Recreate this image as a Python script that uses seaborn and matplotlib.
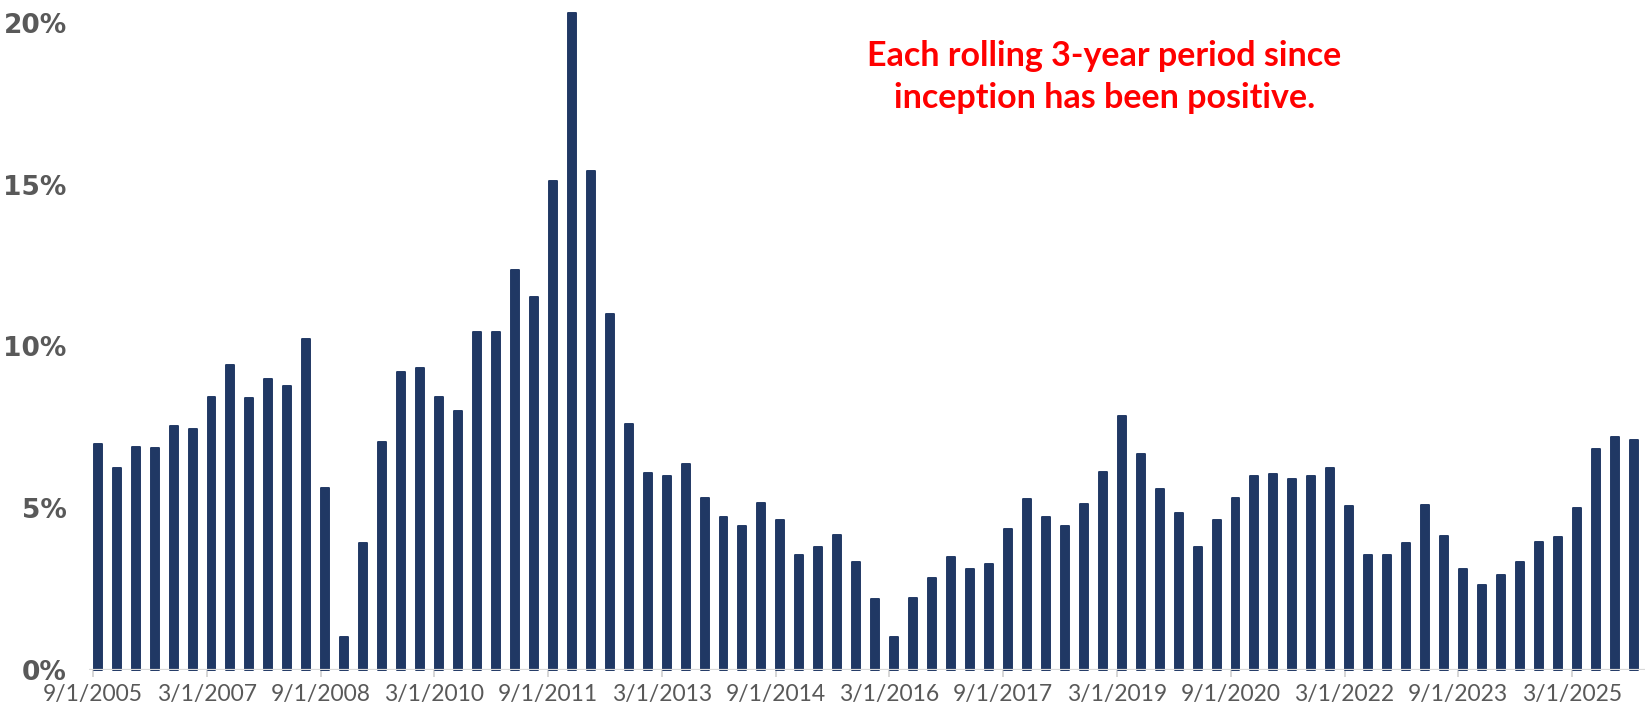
import matplotlib
matplotlib.use("Agg")
import matplotlib.pyplot as plt
import seaborn as sns
import pandas as pd
import numpy as np

# Quarterly rolling 3-year returns (%), one bar per quarter from 9/1/2005
start_date = "2005-09-01"
returns_pct = [
    6.97, 6.23, 6.90, 6.87, 7.54, 7.46, 8.45, 9.44, 8.42, 8.99,
    8.77, 10.24, 5.63, 1.01, 3.92, 7.04, 9.20, 9.34, 8.45, 7.99,
    10.45, 10.45, 12.35, 11.54, 15.10, 20.31, 15.42, 10.99, 7.59, 6.10,
    6.01, 6.38, 5.31, 4.72, 4.44, 5.17, 4.62, 3.56, 3.79, 4.18,
    3.34, 2.18, 1.03, 2.21, 2.83, 3.48, 3.11, 3.28, 4.35, 5.27,
    4.73, 4.44, 5.14, 6.13, 7.85, 6.68, 5.59, 4.85, 3.79, 4.65,
    5.32, 5.99, 6.07, 5.90, 5.99, 6.25, 5.07, 3.54, 3.56, 3.92,
    5.11, 4.13, 3.13, 2.62, 2.93, 3.34, 3.96, 4.11, 5.01, 6.82,
    7.20, 7.11,
]
y_ticks = [0, 5, 10, 15, 20]
label_every = 6  # one date label every 18 months
note_text = "Each rolling 3-year period since\ninception has been positive."

dates = pd.date_range(start_date, periods=len(returns_pct), freq="3MS")
date_labels = [f"{d.month}/{d.day}/{d.year}" for d in dates]
df = pd.DataFrame({"period": date_labels, "ret": returns_pct})

sns.set_theme(style="white")
plt.rcParams["font.family"] = ["Lato", "DejaVu Sans"]

bar_color = "#203864"
fig = plt.figure(figsize=(16.48, 7.15), dpi=100)
ax = fig.add_axes([0.054, 0.063, 0.944, 0.905])

sns.barplot(data=df, x="period", y="ret", order=date_labels, color=bar_color,
            width=0.42, saturation=1, ax=ax, zorder=2)
for patch in ax.patches:
    patch.set_edgecolor(bar_color)
    patch.set_linewidth(1.4)
    patch.set_joinstyle("round")
    patch.set_clip_on(False)

ax.set_ylim(0, 20)
ax.set_xlim(-0.46, len(returns_pct) - 1 + 0.58)
ax.set_yticks(y_ticks)
ax.set_yticklabels([f"{t}%" for t in y_ticks], fontfamily="DejaVu Sans",
                   fontweight="bold", fontsize=19, color="#595959")

tick_idx = list(range(0, len(returns_pct), label_every))
ax.set_xticks([i - 0.25 for i in tick_idx])
ax.set_xticklabels([date_labels[i] for i in tick_idx], fontsize=16.5,
                   color="#595959")
ax.tick_params(axis="x", length=5, width=1.2, color="#d0d0d0", pad=5,
               bottom=True)
ax.tick_params(axis="y", length=0, pad=16)

for side in ["top", "right", "left", "bottom"]:
    ax.spines[side].set_visible(False)
ax.axhline(0, color="#d9d9d9", linewidth=1.6, zorder=3)
ax.set_xlabel("")
ax.set_ylabel("")
ax.grid(False)

fig.text(0.67, 0.892, note_text, ha="center", va="center", color="#ff0000",
         fontsize=24.5, fontweight="bold", linespacing=1.38)

fig.savefig("out.png", dpi=100)
